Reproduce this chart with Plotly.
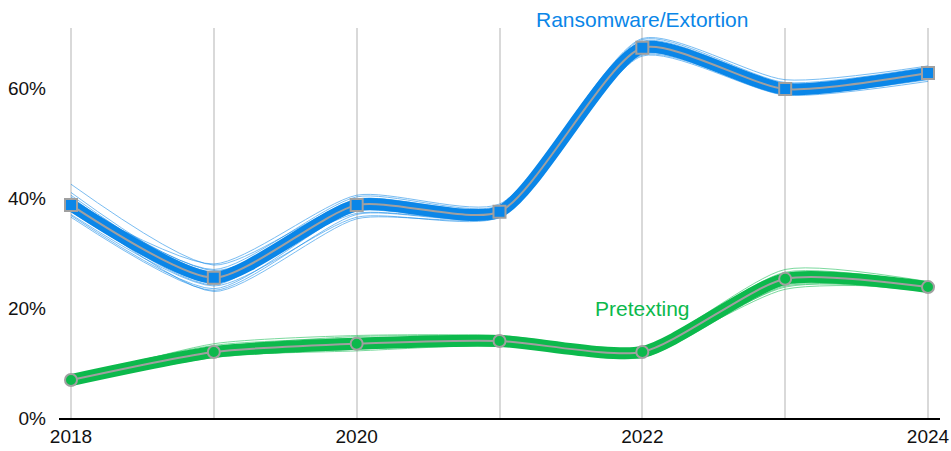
import plotly.graph_objects as go

years = [2018, 2019, 2020, 2021, 2022, 2023, 2024]
tick_text = ["2018", "", "2020", "", "2022", "", "2024"]
y_ticks = [0, 20, 40, 60]
y_tick_text = ["0%", "20%", "40%", "60%"]

ransom = [38.7, 25.5, 38.7, 37.5, 67.3, 59.8, 62.7]
pretext = [6.9, 12.0, 13.5, 14.0, 12.0, 25.3, 23.8]

ransom_samples = [
    [42.5, 27.8, 39.5, 38.2, 68.5, 60.8, 63.5],
    [36.5, 23.2, 37.0, 36.8, 66.0, 59.0, 61.5],
    [40.0, 26.5, 39.8, 38.0, 67.8, 60.5, 63.0],
    [37.5, 24.5, 38.0, 37.0, 66.8, 59.3, 62.2],
    [39.5, 27.0, 40.2, 38.6, 68.8, 61.0, 63.8],
    [37.0, 24.0, 36.5, 36.5, 65.8, 58.7, 61.2],
    [41.0, 26.0, 38.5, 37.8, 67.5, 60.0, 62.8],
    [38.0, 25.0, 39.0, 37.2, 66.5, 59.5, 62.4],
    [39.0, 28.0, 40.5, 38.9, 69.0, 61.5, 64.0],
    [36.8, 23.5, 37.8, 36.9, 66.2, 59.2, 61.8],
    [40.5, 25.8, 38.2, 37.6, 67.2, 60.2, 63.2],
    [38.3, 24.8, 39.3, 37.4, 67.0, 59.6, 62.0],
    [39.8, 26.8, 37.2, 37.1, 67.9, 60.1, 62.6],
    [37.8, 24.2, 39.7, 38.3, 66.4, 59.1, 63.4],
    [38.9, 25.6, 38.1, 37.9, 68.2, 60.6, 62.3],
    [40.2, 24.9, 37.6, 36.7, 66.7, 59.4, 61.6],
    [39.2, 26.2, 39.0, 38.0, 67.6, 60.3, 62.9],
    [38.1, 25.2, 38.4, 37.2, 66.9, 59.4, 62.5],
    [38.5, 23.0, 36.2, 36.9, 66.3, 59.6, 62.4],
]

pretext_samples = [
    [7.5, 13.2, 14.5, 14.6, 12.6, 26.5, 24.5],
    [6.2, 11.0, 12.5, 13.4, 11.2, 24.2, 23.2],
    [7.2, 12.8, 14.8, 14.8, 12.3, 26.0, 24.2],
    [6.5, 11.5, 13.0, 13.7, 11.6, 24.8, 23.5],
    [7.0, 13.5, 15.0, 15.0, 12.8, 27.0, 24.8],
    [6.4, 11.2, 12.2, 13.2, 11.0, 24.0, 23.0],
    [7.3, 12.4, 13.8, 14.3, 12.1, 25.6, 24.0],
    [6.7, 11.8, 13.2, 13.8, 11.8, 25.0, 23.6],
    [6.8, 12.2, 14.0, 14.2, 12.4, 25.8, 24.1],
    [7.1, 11.6, 12.8, 13.5, 11.5, 24.5, 23.4],
    [6.6, 12.9, 13.6, 14.1, 12.2, 25.4, 23.9],
    [7.4, 11.4, 13.4, 13.9, 11.7, 26.2, 24.3],
    [6.9, 11.9, 13.3, 13.9, 11.9, 23.4, 23.7],
    [7.0, 12.1, 13.7, 14.0, 12.1, 23.8, 23.9],
]

BLUE = "#0a86e8"
GREEN = "#0cb94c"
GRAY = "#a0a0a0"
FONT = "Liberation Sans, Arial, sans-serif"
SMOOTH = 0.65

fig = go.Figure()

def add_series(samples, main, color, symbol, msize):
    for s in samples:
        fig.add_trace(go.Scatter(
            x=years, y=s, mode="lines",
            line=dict(color=color, width=0.9, shape="spline", smoothing=SMOOTH),
            opacity=0.6, hoverinfo="skip", showlegend=False))
    fig.add_trace(go.Scatter(
        x=years, y=main, mode="lines",
        line=dict(color=color, width=12, shape="spline", smoothing=SMOOTH),
        hoverinfo="skip", showlegend=False))
    fig.add_trace(go.Scatter(
        x=years, y=main, mode="lines+markers",
        line=dict(color=GRAY, width=2, shape="spline", smoothing=SMOOTH),
        marker=dict(symbol=symbol, size=msize, color=color,
                    line=dict(color=GRAY, width=2)),
        showlegend=False))

add_series(ransom_samples, ransom, BLUE, "square", 12)
add_series(pretext_samples, pretext, GREEN, "circle", 12)

fig.add_annotation(x=years[4], y=ransom[4], yshift=28, text="Ransomware/Extortion",
                   showarrow=False, font=dict(family=FONT, size=21, color=BLUE),
                   yanchor="middle")
fig.add_annotation(x=years[4], y=pretext[4], yshift=43, text="Pretexting",
                   showarrow=False, font=dict(family=FONT, size=21, color=GREEN),
                   yanchor="middle")

fig.update_layout(
    width=951, height=451,
    margin=dict(l=59, r=11, t=28, b=33),
    paper_bgcolor="white", plot_bgcolor="white",
    font=dict(family=FONT, size=19, color="#111111"),
    showlegend=False,
)
fig.update_xaxes(
    range=[2017.916, 2024.084], tickvals=years, ticktext=tick_text,
    showgrid=True, gridcolor="#d9d9d9", gridwidth=1.5,
    showline=True, linecolor="black", linewidth=1.5,
    ticks="", zeroline=False, automargin=False,
)
fig.update_yaxes(
    range=[0, 70.9], tickvals=y_ticks, ticktext=y_tick_text,
    showgrid=False, zeroline=False, showline=False,
    ticklabelstandoff=12, automargin=False,
)

fig.write_html("out.html", config={"displayModeBar": False},
               post_script="document.body.style.margin='0';document.body.style.overflow='hidden';")
